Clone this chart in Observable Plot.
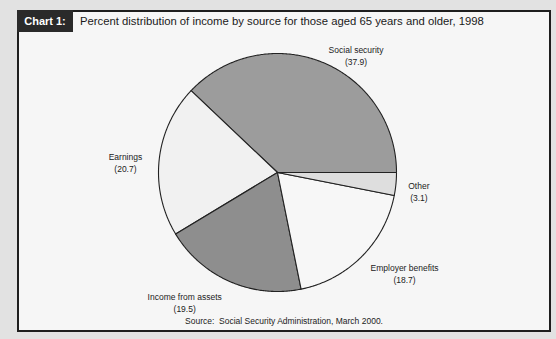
<!DOCTYPE html>
<html><head><meta charset="utf-8">
<script src="https://cdn.jsdelivr.net/npm/d3@7"></script>
<script src="https://cdn.jsdelivr.net/npm/@observablehq/plot@0.6"></script>
<style>
html,body{margin:0;padding:0;background:#e2e2e2;}
#wrap{position:relative;width:556px;height:339px;overflow:hidden;font-family:Arial,"Liberation Sans",sans-serif;}
#box{position:absolute;left:17px;top:10px;width:530px;height:318px;border:2px solid #1e1e1e;background:#f6f6f6;}
#tag{position:absolute;left:17px;top:10px;width:56px;height:22px;background:#2a2a2a;color:#fff;font-weight:bold;font-size:11px;line-height:22px;text-align:center;}
#title{position:absolute;left:80px;top:15px;font-size:11.3px;color:#1a1a1a;white-space:nowrap;}
#chart{position:absolute;left:0;top:0;}
#source{position:absolute;left:6px;width:556px;top:316px;text-align:center;font-size:8.5px;color:#222;}
</style></head>
<body>
<div id="wrap">
  <div id="box"></div>
  <div id="tag">Chart 1:</div>
  <div id="title">Percent distribution of income by source for those aged 65 years and older, 1998</div>
  <div id="chart"></div>
  <div id="source">Source:&nbsp; Social Security Administration, March 2000.</div>
</div>
<script>
// Data
const categories = ["Social security", "Earnings", "Income from assets", "Employer benefits", "Other"];
const values = [37.9, 20.7, 19.5, 18.7, 3.1];
const shades = ["#9c9c9c", "#f1f1f1", "#8e8e8e", "#f7f7f7", "#dedede"];
// label placement: [angle in degrees, radius factor]
const labelAt = [[56, 1.18], [176.6, 1.28], [-125.3, 1.35], [-38.8, 1.37], [-8.1, 1.2]];

const total = d3.sum(values);
let start = 0;
const poly = [];
const slices = categories.map((c, i) => {
  const a0 = start, a1 = start + values[i] / total * 2 * Math.PI;
  start = a1;
  const n = Math.max(4, Math.ceil((a1 - a0) / 0.01));
  poly.push({name: c, x: 0, y: 0});
  for (let k = 0; k <= n; k++) {
    const a = a0 + (a1 - a0) * k / n;
    poly.push({name: c, x: Math.cos(a), y: Math.sin(a)});
  }
  poly.push({name: c, x: 0, y: 0});
  return {name: c, value: values[i]};
});
const labels = slices.map((s, i) => {
  const a = labelAt[i][0] * Math.PI / 180, r = labelAt[i][1];
  return {name: s.name, value: s.value, x: r * Math.cos(a), y: r * Math.sin(a)};
});

const cx = 277, cy = 172, R = 119;
const plot = Plot.plot({
  width: 556, height: 339,
  margin: 0,
  x: {domain: [-1, 1], range: [cx - R, cx + R], axis: null},
  y: {domain: [-1, 1], range: [cy + R, cy - R], axis: null},
  color: {domain: categories, range: shades},
  style: {background: "transparent", fontFamily: "Arial, 'Liberation Sans', sans-serif"},
  marks: [
    Plot.line(poly, {x: "x", y: "y", z: "name", fill: "name", stroke: "#222", strokeWidth: 1.1, curve: "linear"}),
    Plot.text(labels, {x: "x", y: "y", text: "name", dy: -6, fontSize: 8.5, fill: "#222"}),
    Plot.text(labels, {x: "x", y: "y", text: d => `(${d.value.toFixed(1)})`, dy: 6, fontSize: 8.5, fill: "#222"})
  ]
});
document.getElementById("chart").appendChild(plot);
</script>
</body></html>
